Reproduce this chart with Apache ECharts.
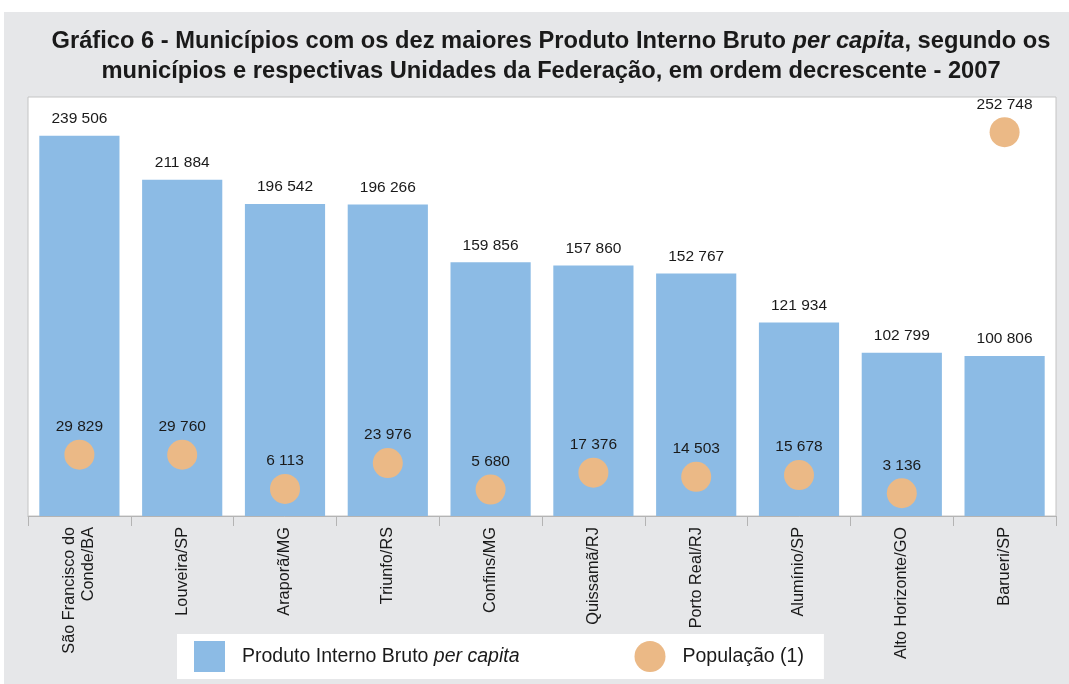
<!DOCTYPE html>
<html>
<head>
<meta charset="utf-8">
<script src="https://cdn.jsdelivr.net/npm/echarts@6/dist/echarts.min.js"></script>
<style>
  html, body { margin: 0; padding: 0; background: #ffffff; }
  #chart { width: 1069px; height: 684px; }
</style>
</head>
<body>
<div id="chart"></div>
<script>
// municipios (eixo x)
const municipios = [
  'São Francisco do\nConde/BA', 'Louveira/SP', 'Araporã/MG', 'Triunfo/RS', 'Confins/MG',
  'Quissamã/RJ', 'Porto Real/RJ', 'Alumínio/SP', 'Alto Horizonte/GO', 'Barueri/SP'
];
// PIB per capita (R$)
const pibPerCapita = [239506, 211884, 196542, 196266, 159856, 157860, 152767, 121934, 102799, 100806];
// populacao
const populacao = [29829, 29760, 6113, 23976, 5680, 17376, 14503, 15678, 3136, 252748];

const COLORS = {
  BAR: '#8cbbe5',
  DOT: '#ebb986',
  TEXT: '#1a1a1a',
  PANEL: '#e6e7e9',
};

// numero com espaco como separador de milhar
const fmt = (v) => String(v).replace(/\B(?=(\d{3})+(?!\d))/g, ' ');

const chart = echarts.init(document.getElementById('chart'), null, { renderer: 'canvas' });

chart.setOption({
  backgroundColor: '#ffffff',
  animation: false,
  textStyle: { fontFamily: 'Liberation Sans, Arial, sans-serif' },
  graphic: [
    {
      type: 'rect', z: -10, silent: true,
      shape: { x: 4, y: 12, width: 1065, height: 672 },
      style: { fill: COLORS.PANEL }
    }
  ],
  title: {
    text: 'Gráfico 6 - Municípios com os dez maiores Produto Interno Bruto {i|per capita}, segundo os\nmunicípios e respectivas Unidades da Federação, em ordem decrescente - 2007',
    left: 546,
    textAlign: 'center',
    top: 21,
    textStyle: {
      fontSize: 23.7,
      fontWeight: 'bold',
      color: COLORS.TEXT,
      lineHeight: 30,
      rich: {
        i: {
          fontSize: 23.7,
          fontWeight: 'bold',
          fontStyle: 'italic',
          color: COLORS.TEXT,
          lineHeight: 30
        }
      }
    }
  },
  legend: {
    left: 177,
    top: 634,
    orient: 'horizontal',
    backgroundColor: '#ffffff',
    padding: [7, 20, 7, 17],
    itemGap: 115,
    itemWidth: 31,
    itemHeight: 31,
    data: [
      { name: 'pib', icon: 'rect' },
      { name: 'pop', icon: 'circle' }
    ],
    formatter: (name) => name === 'pib' ? 'Produto Interno Bruto {i|per capita}' : 'População (1)',
    textStyle: {
      fontSize: 19.5,
      color: COLORS.TEXT,
      padding: [0, 0, 0, 12],
      rich: {
        i: { fontSize: 19.5, fontStyle: 'italic', color: COLORS.TEXT }
      }
    }
  },
  grid: {
    left: 28,
    right: 13,
    top: 97,
    bottom: 168,
    show: true,
    backgroundColor: '#ffffff',
    borderColor: '#c4c4c4',
    borderWidth: 1
  },
  xAxis: {
    type: 'category',
    data: municipios,
    axisLine: { lineStyle: { color: '#b4b4b4', width: 1 } },
    axisTick: { show: true, length: 10, lineStyle: { color: '#b4b4b4' } },
    axisLabel: {
      rotate: 90,
      margin: 11,
      fontSize: 16.3,
      color: COLORS.TEXT,
      lineHeight: 19
    }
  },
  yAxis: [
    { type: 'value', min: 0, max: 264000, show: false, splitLine: { show: false } },
    { type: 'value', min: -12600, max: 277100, show: false, splitLine: { show: false } }
  ],
  series: [
    {
      name: 'pib',
      type: 'bar',
      data: pibPerCapita,
      barCategoryGap: '22%',
      itemStyle: { color: COLORS.BAR },
      label: {
        show: true,
        position: 'top',
        distance: 9,
        fontSize: 15.5,
        color: COLORS.TEXT,
        formatter: (p) => fmt(p.value)
      }
    },
    {
      name: 'pop',
      type: 'scatter',
      yAxisIndex: 1,
      data: populacao,
      symbol: 'circle',
      symbolSize: 30,
      z: 5,
      itemStyle: { color: COLORS.DOT, opacity: 1 },
      label: {
        show: true,
        position: 'top',
        distance: 5,
        fontSize: 15.5,
        color: COLORS.TEXT,
        formatter: (p) => fmt(p.value)
      }
    }
  ]
});
</script>
</body>
</html>
